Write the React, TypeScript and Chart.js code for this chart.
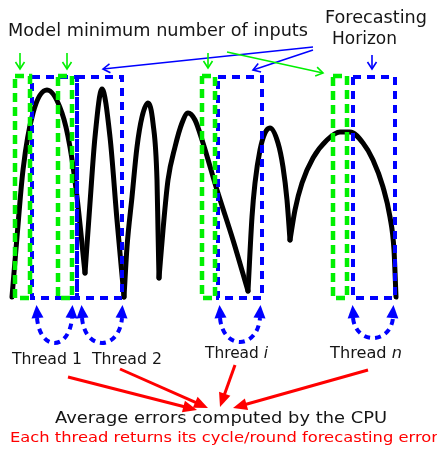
import React, { useEffect, useRef } from 'react';
import { Chart, registerables } from 'chart.js';

Chart.register(...registerables);

// ---- Signal: each arch rises from a cusp to a peak and falls to the next cusp (time, value) ----
const arch1 = [[12, 297], [17, 237], [23, 170], [33, 113], [47, 90], [62, 113], [70, 147], [77, 197], [85, 273]];
const arch2 = [[85, 273], [90, 203], [95, 137], [102, 89], [110, 137], [117, 220], [124, 297]];
const arch3 = [[124, 297], [127, 247], [132, 197], [137, 147], [142, 117], [148, 103], [153, 123], [157, 180], [158, 230], [159, 278]];
const arch4 = [[159, 278], [163, 230], [168, 180], [175, 147], [182, 123], [188, 113], [195, 120], [203, 143], [217, 190], [233, 240], [248, 291]];
const arch5 = [[248, 291], [252, 217], [255, 183], [260, 150], [265, 133], [270, 128], [278, 143], [283, 167], [287, 200], [290, 240]];
const arch6 = [[290, 240], [295, 210], [302, 183], [313, 158], [327, 140], [340, 132], [350, 132], [363, 143], [373, 160], [383, 187], [390, 217], [394, 250], [396, 297]];
const arches = [arch1, arch2, arch3, arch4, arch5, arch6];

// ---- Windows per thread: [start, end] in time ----
const inputWindows = [[15, 30], [58, 72], [202, 215], [333, 347]];
const horizonWindows = [[32, 77], [77, 122], [218, 262], [353, 395]];
const windowTop = 77;
const windowBottom = 298;

// ---- Texts ----
const headerInputs = 'Model minimum number of inputs';
const headerHorizon = ['Forecasting', 'Horizon'];
const threadNames = [['Thread 1', ''], ['Thread 2', ''], ['Thread ', 'i'], ['Thread ', 'n']];
const summaryLabel = 'Average errors computed by the CPU';
const noteLabel = 'Each thread returns its cycle/round forecasting error';

const BLUE = '#0000ff';
const GREEN = '#00f000';
const RED = '#ff0000';
const INK = '#151515';
const FONT = '"DejaVu Sans", Verdana, sans-serif';

const toPts = (arr: number[][]) => arr.map(([x, y]) => ({ x, y }));
const boxPts = ([l, r]: number[], top: number, bottom: number) => [
  { x: l, y: top }, { x: r, y: top }, { x: r, y: bottom }, { x: l, y: bottom }, { x: l, y: top },
];

type Part = { text: string; italic: boolean };

function drawText(ctx: CanvasRenderingContext2D, parts: Part[], x: number, y: number, size: number, width: number, color: string, align: 'left' | 'center') {
  ctx.save();
  const fonts = parts.map((p) => `${p.italic ? 'italic ' : ''}${size}px ${FONT}`);
  const ws = parts.map((p, i) => { ctx.font = fonts[i]; return ctx.measureText(p.text).width; });
  const total = ws.reduce((a, b) => a + b, 0);
  const sx = width > 0 ? width / total : 1;
  const w = total * sx;
  const start = align === 'center' ? x - w / 2 : x;
  ctx.translate(start, y);
  ctx.scale(sx, 1);
  ctx.fillStyle = color;
  ctx.textBaseline = 'alphabetic';
  ctx.textAlign = 'left';
  let cx = 0;
  parts.forEach((p, i) => { ctx.font = fonts[i]; ctx.fillText(p.text, cx, 0); cx += ws[i]; });
  ctx.restore();
}

function head(ctx: CanvasRenderingContext2D, bx: number, by: number, tx: number, ty: number, len: number, half: number, filled: boolean, color: string, lw: number) {
  const a = Math.atan2(ty - by, tx - bx);
  const ux = Math.cos(a), uy = Math.sin(a);
  const px = -uy, py = ux;
  const baseX = tx - ux * len, baseY = ty - uy * len;
  ctx.save();
  ctx.strokeStyle = color;
  ctx.fillStyle = color;
  ctx.lineWidth = lw;
  ctx.setLineDash([]);
  ctx.beginPath();
  ctx.moveTo(baseX + px * half, baseY + py * half);
  ctx.lineTo(tx, ty);
  ctx.lineTo(baseX - px * half, baseY - py * half);
  if (filled) { ctx.closePath(); ctx.fill(); } else { ctx.stroke(); }
  ctx.restore();
}

// Annotation geometry (in data units of the two scales)
const pointerArrows = [
  { from: [313, 47], to: [103, 69], color: BLUE },
  { from: [313, 50], to: [253, 70], color: BLUE },
  { from: [227, 52], to: [323, 73], color: GREEN },
  { from: [20, 53], to: [20, 69], color: GREEN },
  { from: [67, 53], to: [67, 69], color: GREEN },
  { from: [208, 53], to: [208, 68], color: GREEN },
  { from: [372, 55], to: [372, 69], color: BLUE },
];
const threadLoops = [
  { l: 37, r: 72, bottom: 343 },
  { l: 82, r: 122, bottom: 343 },
  { l: 220, r: 260, bottom: 342 },
  { l: 353, r: 393, bottom: 338 },
];
const loopTop = 318;
const threadLabelPos = [[47, 364, 70], [127, 364, 70], [236.5, 358, 63], [366, 358, 72]];
const redArrows = [
  { from: [68, 377], to: [197, 410] },
  { from: [120, 369], to: [208, 408] },
  { from: [235, 365], to: [220, 407] },
  { from: [368, 370], to: [233, 408] },
];

const annotations = {
  id: 'annotations',
  afterDatasetsDraw(chart: any) {
    const ctx: CanvasRenderingContext2D = chart.ctx;
    const xs = chart.scales.x, ys = chart.scales.y;
    const X = (v: number) => xs.getPixelForValue(v);
    const Y = (v: number) => ys.getPixelForValue(v);
    const W = (x: number, w: number) => X(x + w) - X(x);

    // header texts
    drawText(ctx, [{ text: headerInputs, italic: false }], X(8), Y(36), 17.5, W(8, 300), INK, 'left');
    drawText(ctx, [{ text: headerHorizon[0], italic: false }], X(376), Y(22.5), 17.5, W(325, 102), INK, 'center');
    drawText(ctx, [{ text: headerHorizon[1], italic: false }], X(364.5), Y(43.5), 17.5, W(332, 65), INK, 'center');

    // thin pointer arrows
    pointerArrows.forEach((a) => {
      ctx.save();
      ctx.strokeStyle = a.color;
      ctx.lineWidth = 1.6;
      ctx.beginPath();
      ctx.moveTo(X(a.from[0]), Y(a.from[1]));
      ctx.lineTo(X(a.to[0]), Y(a.to[1]));
      ctx.stroke();
      ctx.restore();
      head(ctx, X(a.from[0]), Y(a.from[1]), X(a.to[0]), Y(a.to[1]), 7, 4.5, false, a.color, 1.6);
    });

    // dashed loop arrows under each horizon window
    threadLoops.forEach((lp) => {
      const c = (lp.bottom - 0.25 * loopTop) / 0.75;
      const x1 = X(lp.l), x2 = X(lp.r), yt = Y(loopTop), yc = Y(c);
      ctx.save();
      ctx.strokeStyle = BLUE;
      ctx.lineWidth = 4;
      ctx.setLineDash([6, 5]);
      ctx.beginPath();
      ctx.moveTo(x1, yt);
      ctx.bezierCurveTo(x1 + 3, yc, x2 - 3, yc, x2, yt);
      ctx.stroke();
      ctx.restore();
      head(ctx, x1 + 3, yc, x1 - 0.5, yt - 13, 13, 6, true, BLUE, 1);
      head(ctx, x2 - 3, yc, x2 + 0.5, yt - 13, 13, 6, true, BLUE, 1);
    });

    // thread labels
    threadNames.forEach((n, i) => {
      const [cx, by, w] = threadLabelPos[i];
      const parts: Part[] = [{ text: n[0], italic: false }];
      if (n[1]) parts.push({ text: n[1], italic: true });
      drawText(ctx, parts, X(cx), Y(by), 15.5, W(cx, w), INK, 'center');
    });

    // red arrows towards the CPU
    redArrows.forEach((a) => {
      const fx = X(a.from[0]), fy = Y(a.from[1]), tx = X(a.to[0]), ty = Y(a.to[1]);
      const ang = Math.atan2(ty - fy, tx - fx);
      ctx.save();
      ctx.strokeStyle = RED;
      ctx.lineWidth = 3;
      ctx.beginPath();
      ctx.moveTo(fx, fy);
      ctx.lineTo(tx - Math.cos(ang) * 10, ty - Math.sin(ang) * 10);
      ctx.stroke();
      ctx.restore();
      head(ctx, fx, fy, tx, ty, 14, 6, true, RED, 1);
    });

    drawText(ctx, [{ text: summaryLabel, italic: false }], X(221), Y(423), 16, W(55, 332), INK, 'center');
    drawText(ctx, [{ text: noteLabel, italic: false }], X(10), Y(442), 14.5, W(10, 428), RED, 'left');
  },
};

export default function App() {
  const ref = useRef<HTMLCanvasElement>(null);
  useEffect(() => {
    const datasets: any[] = [
      ...arches.map((a) => ({
        data: toPts(a),
        borderColor: '#000',
        borderWidth: 5,
        pointRadius: 0,
        cubicInterpolationMode: 'monotone',
        borderCapStyle: 'round',
        borderJoinStyle: 'round',
        fill: false,
        order: 3,
      })),
      ...horizonWindows.map((w) => ({
        data: boxPts(w, windowTop, windowBottom),
        borderColor: BLUE,
        borderWidth: 4,
        borderDash: [8, 6],
        pointRadius: 0,
        tension: 0,
        fill: false,
        order: 2,
      })),
      ...inputWindows.map((w) => ({
        data: boxPts(w, windowTop - 1, windowBottom),
        borderColor: GREEN,
        borderWidth: 4.5,
        borderDash: [9, 5],
        pointRadius: 0,
        tension: 0,
        fill: false,
        order: 1,
      })),
    ];
    const chart = new Chart(ref.current as HTMLCanvasElement, {
      type: 'line',
      data: { datasets },
      options: {
        animation: false,
        responsive: false,
        events: [],
        layout: { padding: 0 },
        scales: {
          x: { type: 'linear', min: 0, max: 437, display: false },
          y: { type: 'linear', min: 0, max: 450, reverse: true, display: false },
        },
        plugins: { legend: { display: false }, tooltip: { enabled: false } },
      },
      plugins: [annotations],
    } as any);
    return () => chart.destroy();
  }, []);
  return (
    <div style={{ position: 'absolute', left: 0, top: 0, width: 437, height: 450, background: '#fff' }}>
      <canvas ref={ref} width={437} height={450} style={{ display: 'block' }} />
    </div>
  );
}
